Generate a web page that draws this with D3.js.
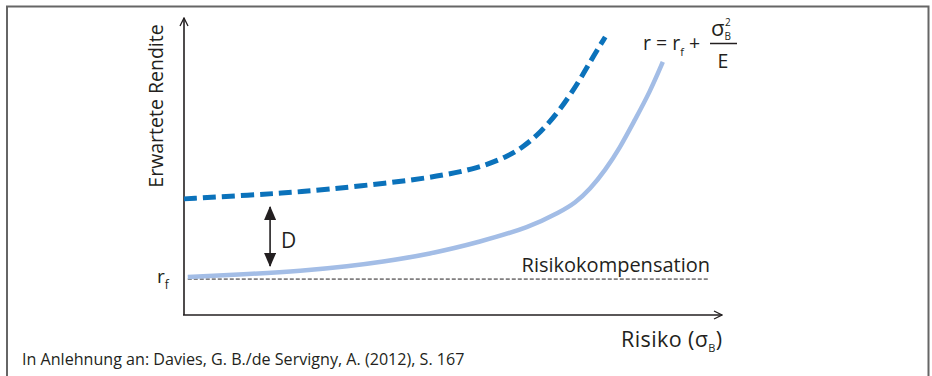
<!DOCTYPE html>
<html><head><meta charset="utf-8">
<script src="https://cdn.jsdelivr.net/npm/d3@7"></script>
<style>body{margin:0;background:#fff}svg{display:block}text{font-family:"Open Sans",sans-serif;fill:#231f20}</style>
</head><body><svg id="c" width="932" height="376"></svg>
<script>
// data (abstract units: risk 0-100, return 0-100)
const solidX = [0.7, 12.3, 21.6, 30.9, 36.4, 45.7, 55.0, 64.3, 69.9, 72.7, 75.5, 78.3, 81.0, 83.8, 86.6, 89.0];
const solidY = [12.8, 13.8, 14.8, 16.5, 17.8, 20.5, 24.6, 29.6, 34.7, 37.7, 42.4, 48.8, 56.2, 65.7, 75.1, 85.2];
const dashX = [0, 12.3, 21.6, 32.7, 45.7, 55.0, 60.6, 63.0, 66.2, 69.9, 73.6, 76.0, 78.3];
const dashY = [39.1, 40.4, 41.4, 43.4, 46.1, 49.5, 53.8, 56.6, 61.3, 69.0, 79.1, 86.9, 93.6];
const rf = 12.1;
const rfLineX = [0.7, 97.4];
const dArrowX = 16.0;
const dArrowY = [16.5, 36.4];
const labels = {y: "Erwartete Rendite", x: "Risiko (σ", comp: "Risikokompensation",
  source: "In Anlehnung an: Davies, G. B./de Servigny, A. (2012), S. 167"};

const svg = d3.select("#c");
const x = d3.scaleLinear().domain([0, 100]).range([184, 722]);
const y = d3.scaleLinear().domain([0, 100]).range([315, 18]);

// frame
svg.append("path").attr("d", "M7,380 V6.5 H928.5 V380").attr("fill", "none")
  .attr("stroke", "#666").attr("stroke-width", 2);

const defs = svg.append("defs");
defs.append("marker").attr("id", "open").attr("viewBox", "0 0 10 10").attr("refX", 9).attr("refY", 5)
  .attr("markerWidth", 10).attr("markerHeight", 10).attr("markerUnits", "userSpaceOnUse").attr("orient", "auto")
  .append("path").attr("d", "M1,1 L9,5 L1,9").attr("fill", "none").attr("stroke", "#231f20").attr("stroke-width", 1.3);
defs.append("marker").attr("id", "tri").attr("viewBox", "0 0 14 12").attr("refX", 13).attr("refY", 6)
  .attr("markerWidth", 14).attr("markerHeight", 12).attr("markerUnits", "userSpaceOnUse").attr("orient", "auto-start-reverse")
  .append("path").attr("d", "M0,0 L14,6 L0,12 Z").attr("fill", "#231f20");

// axes
svg.append("line").attr("x1", x(0)).attr("y1", y(0)).attr("x2", x(0)).attr("y2", y(100))
  .attr("stroke", "#231f20").attr("stroke-width", 1.6).attr("marker-end", "url(#open)");
svg.append("line").attr("x1", x(0) - 1).attr("y1", y(0)).attr("x2", x(100)).attr("y2", y(0))
  .attr("stroke", "#231f20").attr("stroke-width", 1.6).attr("marker-end", "url(#open)");

// rf dashed line
svg.append("line").attr("x1", x(rfLineX[0])).attr("x2", x(rfLineX[1])).attr("y1", y(rf)).attr("y2", y(rf))
  .attr("stroke", "#231f20").attr("stroke-width", 1).attr("stroke-dasharray", "4,2");

const line = d3.line().x(d => x(d[0])).y(d => y(d[1])).curve(d3.curveBasis);
svg.append("path").attr("d", line(d3.zip(solidX, solidY))).attr("fill", "none")
  .attr("stroke", "#a3bde6").attr("stroke-width", 4.5);
svg.append("path").attr("d", line(d3.zip(dashX, dashY))).attr("fill", "none")
  .attr("stroke", "#0b72bb").attr("stroke-width", 5).attr("stroke-dasharray", "13,6");

// D arrow
svg.append("line").attr("x1", x(dArrowX)).attr("x2", x(dArrowX)).attr("y1", y(dArrowY[0])).attr("y2", y(dArrowY[1]))
  .attr("stroke", "#231f20").attr("stroke-width", 1.6)
  .attr("marker-start", "url(#tri)").attr("marker-end", "url(#tri)");
svg.append("text").attr("x", 281).attr("y", 248).attr("font-size", 21).text("D");

// labels
svg.append("text").attr("transform", "translate(163,106) rotate(-90)").attr("text-anchor", "middle")
  .attr("font-size", 19.5).text(labels.y);
const rfT = svg.append("text").attr("x", 157).attr("y", 283).attr("font-size", 19);
rfT.append("tspan").text("r");
rfT.append("tspan").attr("font-size", 12).attr("dy", 6).text("f");

svg.append("text").attr("x", 710).attr("y", 272).attr("text-anchor", "end").attr("font-size", 20).text(labels.comp);

const xl = svg.append("text").attr("x", 621).attr("y", 347).attr("font-size", 21.5).attr("letter-spacing", 0.4);
xl.append("tspan").text(labels.x);
xl.append("tspan").attr("font-size", 11).attr("dy", 5).text("B");
xl.append("tspan").attr("dy", -5).text(")");

svg.append("text").attr("x", 22).attr("y", 365).attr("font-size", 16.1).text(labels.source);

// formula
const f = svg.append("text").attr("x", 643).attr("y", 50).attr("font-size", 19.5);
f.append("tspan").text("r = r");
f.append("tspan").attr("font-size", 11).attr("dy", 6).text("f");
f.append("tspan").attr("dy", -6).text(" +");
const sig = svg.append("text").attr("x", 711).attr("y", 36).attr("font-size", 22);
sig.append("tspan").text("σ");
sig.append("tspan").attr("font-size", 10).attr("dy", 4).text("B");
sig.append("tspan").attr("font-size", 10).attr("dy", -14).attr("dx", -6).text("2");
svg.append("line").attr("x1", 710).attr("x2", 737).attr("y1", 43.5).attr("y2", 43.5).attr("stroke", "#231f20").attr("stroke-width", 1.5);
svg.append("text").attr("x", 723).attr("y", 68).attr("text-anchor", "middle").attr("font-size", 19.5).text("E");
</script></body></html>
